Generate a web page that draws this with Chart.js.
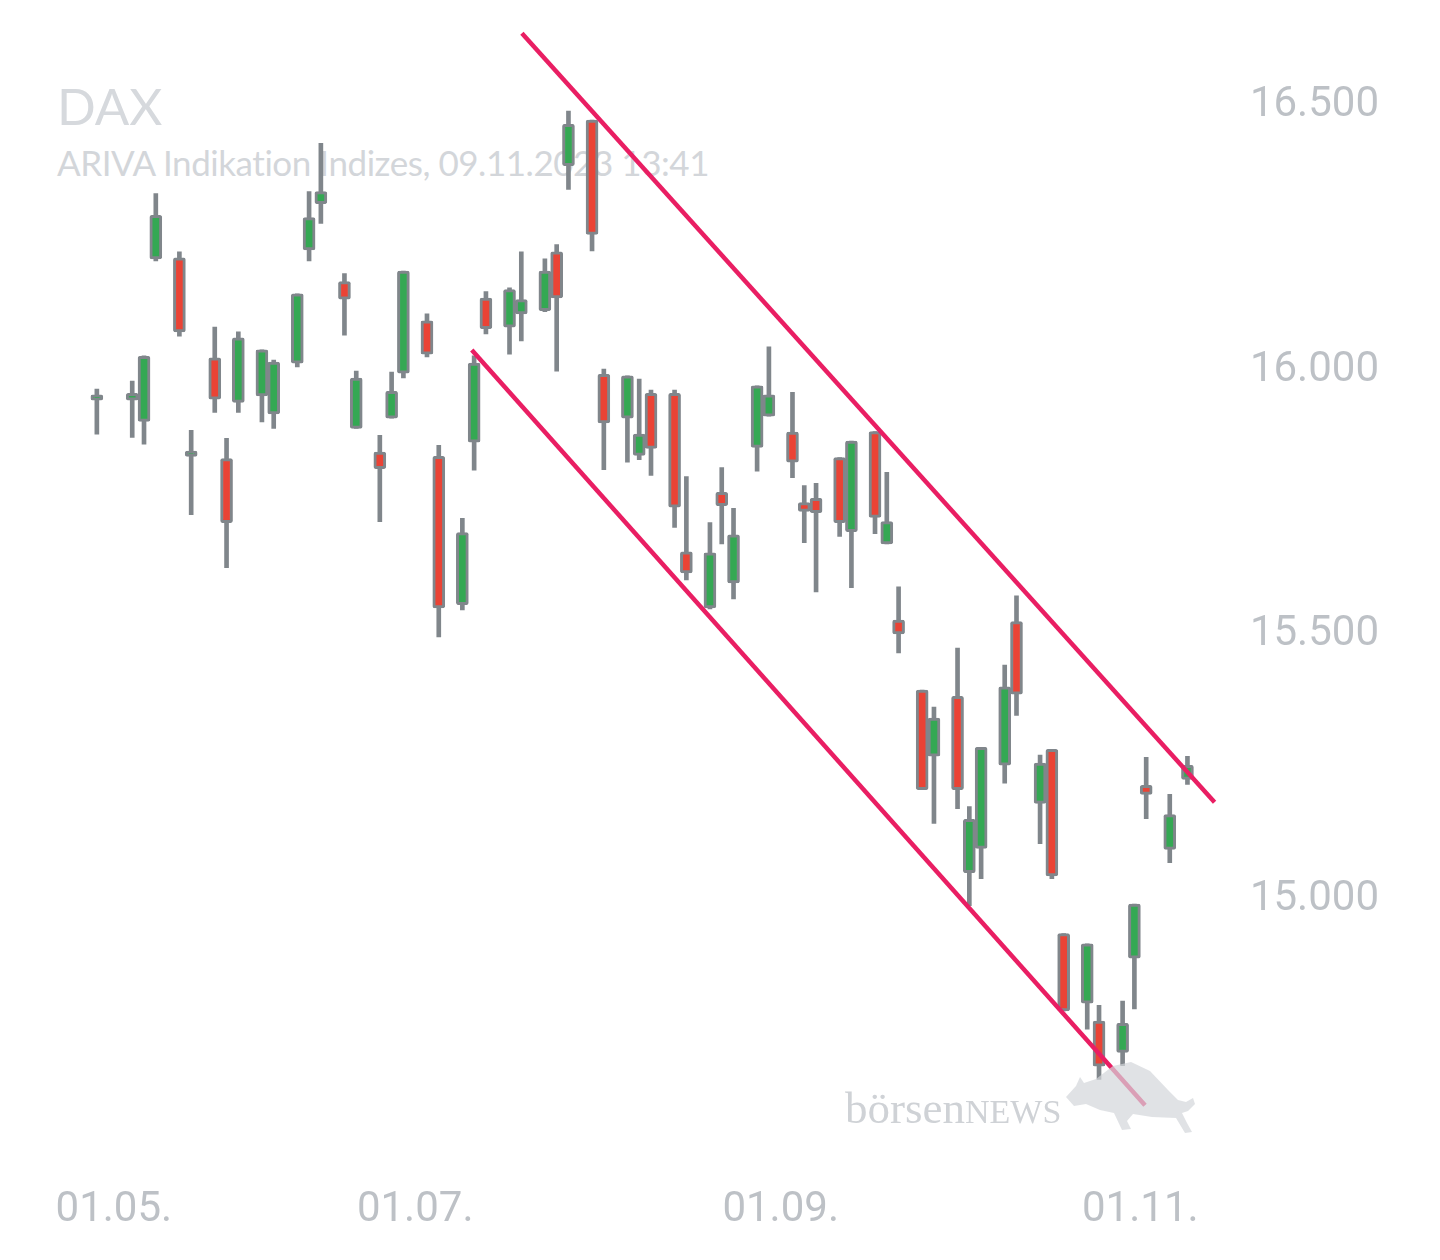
<!DOCTYPE html>
<html>
<head>
<meta charset="utf-8">
<script src="https://cdn.jsdelivr.net/npm/chart.js@4.4.1/dist/chart.umd.min.js"></script>
<style>
  html, body { margin: 0; background: #fff; }
  #wrap { position: relative; width: 1440px; height: 1260px; overflow: hidden; }
  #chart { position: absolute; left: 0; top: 0; z-index: 2; }
  .title { position: absolute; left: 57px; top: 80px; font: 400 51px Lato, sans-serif; line-height: 1; color: #d6d9dd; z-index: 1; }
  .subtitle { position: absolute; left: 57px; top: 145px; font: 400 35px Lato, sans-serif; letter-spacing: -0.45px; line-height: 1; color: #d3d6da; z-index: 1; white-space: nowrap; }
  .mark { position: absolute; left: 845px; top: 1086px; font: 400 45px "Liberation Serif", serif; line-height: 1; color: #cfd2d6; z-index: 3; white-space: nowrap; }
  .mark span { font-size: 34px; }
  #bull { position: absolute; left: 0; top: 0; z-index: 3; pointer-events: none; }
</style>
</head>
<body>
<div id="wrap">
  <div class="title">DAX</div>
  <div class="subtitle">ARIVA Indikation Indizes, 09.11.2023 13:41</div>
  <canvas id="chart" width="1440" height="1260"></canvas>
  <div class="mark">börsen<span>NEWS</span></div>
  <svg id="bull" width="1440" height="1260">
    <path d="M1066 1097 L1076 1086 L1080 1077 L1084 1083 L1096 1079 L1113 1066 L1131 1062 L1150 1071 L1168 1090 L1178 1100 L1186 1102 L1193 1098 L1195 1104 L1188 1111 L1182 1113 L1187 1123 L1192 1132 L1185 1133 L1176 1118 L1152 1117 L1133 1114 L1127 1121 L1131 1129 L1122 1130 L1114 1113 L1100 1110 L1086 1104 L1074 1106 Z" fill="#d3d6da" fill-opacity="0.7"/>
  </svg>
</div>
<script>
// days counted from 01.05.2023
const days = [7, 13, 15, 17, 21, 23, 27, 29, 31, 35, 37, 41, 43, 45, 49, 51, 55, 57, 59, 63, 65, 69, 71, 73, 77, 79, 83, 85, 87, 91, 93, 97, 99, 101, 105, 107, 111, 113, 115, 119, 121, 125, 127, 129, 133, 135, 139, 141, 143, 147, 149, 153, 155, 157, 161, 163, 167, 169, 171, 175, 177, 181, 183, 185, 189, 192];
const opens = [15943, 15943, 15903, 16210, 16212, 15837, 16023, 15833, 15939, 15951, 15917, 16013, 16227, 16314, 16167, 15890, 15845, 15909, 15994, 16093, 15837, 15557, 15864, 16136, 16081, 16106, 16112, 16223, 16386, 16472, 15992, 15909, 15839, 15956, 15956, 15657, 15551, 15769, 15598, 15854, 15913, 15883, 15750, 15758, 15835, 15695, 15884, 15672, 15528, 15396, 15271, 15384, 15051, 15097, 15254, 15525, 15182, 15284, 14936, 14805, 14771, 14712, 14890, 15216, 15095, 15227];
const highs = [15964, 15979, 16027, 16333, 16223, 15886, 16081, 15871, 16072, 16038, 16019, 16144, 16337, 16428, 16182, 15998, 15877, 15996, 16187, 16106, 15858, 15720, 16027, 16148, 16155, 16223, 16210, 16237, 16489, 16472, 16002, 15989, 15983, 15962, 15962, 15799, 15712, 15816, 15739, 15970, 16044, 15958, 15782, 15786, 15835, 15866, 15884, 15807, 15591, 15396, 15364, 15475, 15176, 15288, 15443, 15574, 15273, 15284, 14936, 14917, 14801, 14809, 14992, 15269, 15199, 15271];
const lows = [15879, 15873, 15860, 16206, 16064, 15727, 15920, 15627, 15920, 15902, 15890, 16006, 16206, 16277, 16066, 15890, 15714, 15909, 15985, 16025, 15496, 15547, 15811, 16068, 16030, 16055, 16110, 15998, 16341, 16225, 15812, 15826, 15831, 15801, 15703, 15604, 15549, 15672, 15568, 15809, 15913, 15797, 15674, 15581, 15686, 15589, 15691, 15672, 15466, 15208, 15144, 15172, 14989, 15040, 15220, 15348, 15106, 15040, 14790, 14756, 14661, 14687, 14794, 15153, 15070, 15218];
const closes = [15953, 15956, 16026, 16292, 16072, 15847, 15945, 15712, 16061, 16038, 16015, 16144, 16288, 16337, 16134, 15985, 15814, 15960, 16187, 16030, 15551, 15693, 16013, 16078, 16152, 16133, 16187, 16136, 16464, 16256, 15900, 15989, 15879, 15852, 15741, 15617, 15655, 15744, 15689, 15970, 15953, 15826, 15733, 15731, 15712, 15866, 15722, 15714, 15502, 15208, 15343, 15208, 15152, 15288, 15402, 15388, 15258, 15045, 14790, 14917, 14686, 14767, 14992, 15199, 15161, 15254];

// trend channel (day, value)
const upperDays = [79.1, 196.6];
const upperValues = [16636, 15184];
const lowerDays = [70.6, 184.8];
const lowerValues = [16038, 14612];

const xTickDays = [0, 61, 123, 184];
const xTickLabels = ["01.05.", "01.07.", "01.09.", "01.11."];
const yTicks = [15000, 15500, 16000, 16500];

const GREEN = "#34a853";
const RED = "#ea4335";
const GREY = "#80868b";
const PINK = "#e91e63";

const up = closes.map((c, i) => c >= opens[i]);

function fmt(v) {
  const s = String(Math.round(v));
  return s.slice(0, s.length - 3) + "." + s.slice(-3);
}

new Chart(document.getElementById("chart"), {
  type: "bar",
  data: {
    datasets: [
      {
        type: "line",
        data: upperDays.map((d, i) => ({ x: d, y: upperValues[i] })),
        borderColor: PINK,
        borderWidth: 4.5,
        pointRadius: 0,
        clip: false,
        order: 0
      },
      {
        type: "line",
        data: lowerDays.map((d, i) => ({ x: d, y: lowerValues[i] })),
        borderColor: PINK,
        borderWidth: 4.5,
        pointRadius: 0,
        clip: false,
        order: 0
      },
      {
        data: days.map((d, i) => ({ x: d, y: [opens[i], closes[i]] })),
        backgroundColor: up.map((u) => (u ? GREEN : RED)),
        borderColor: GREY,
        borderWidth: 3,
        borderSkipped: false,
        borderRadius: 2,
        barThickness: 12,
        grouped: false,
        order: 1
      },
      {
        data: days.map((d, i) => ({ x: d, y: [lows[i], highs[i]] })),
        backgroundColor: GREY,
        borderWidth: 0,
        barThickness: 4,
        grouped: false,
        order: 2
      }
    ]
  },
  options: {
    responsive: false,
    animation: false,
    layout: { padding: { left: 0, right: 43, top: 0, bottom: 2 } },
    plugins: { legend: { display: false }, tooltip: { enabled: false } },
    scales: {
      x: {
        type: "linear",
        min: -9.43,
        max: 199.54,
        offset: false,
        grid: { display: false, drawTicks: false },
        border: { display: false },
        afterBuildTicks: (scale) => {
          scale.ticks = xTickDays.map((v) => ({ value: v })).concat([{ value: scale.max }]);
        },
        ticks: {
          autoSkip: false,
          maxRotation: 0,
          align: "inner",
          padding: 22,
          color: "#bdc1c6",
          font: { family: "Roboto", size: 42 },
          callback: (v, i) => xTickLabels[i] || ""
        }
      },
      y: {
        position: "right",
        min: 14502,
        max: 16617,
        grid: { display: false, drawTicks: false },
        border: { display: false },
        afterBuildTicks: (scale) => {
          scale.ticks = yTicks.map((v) => ({ value: v }));
        },
        ticks: {
          padding: 18,
          color: "#bdc1c6",
          font: { family: "Roboto", size: 42 },
          callback: (v) => fmt(v)
        }
      }
    }
  }
});
</script>
</body>
</html>
